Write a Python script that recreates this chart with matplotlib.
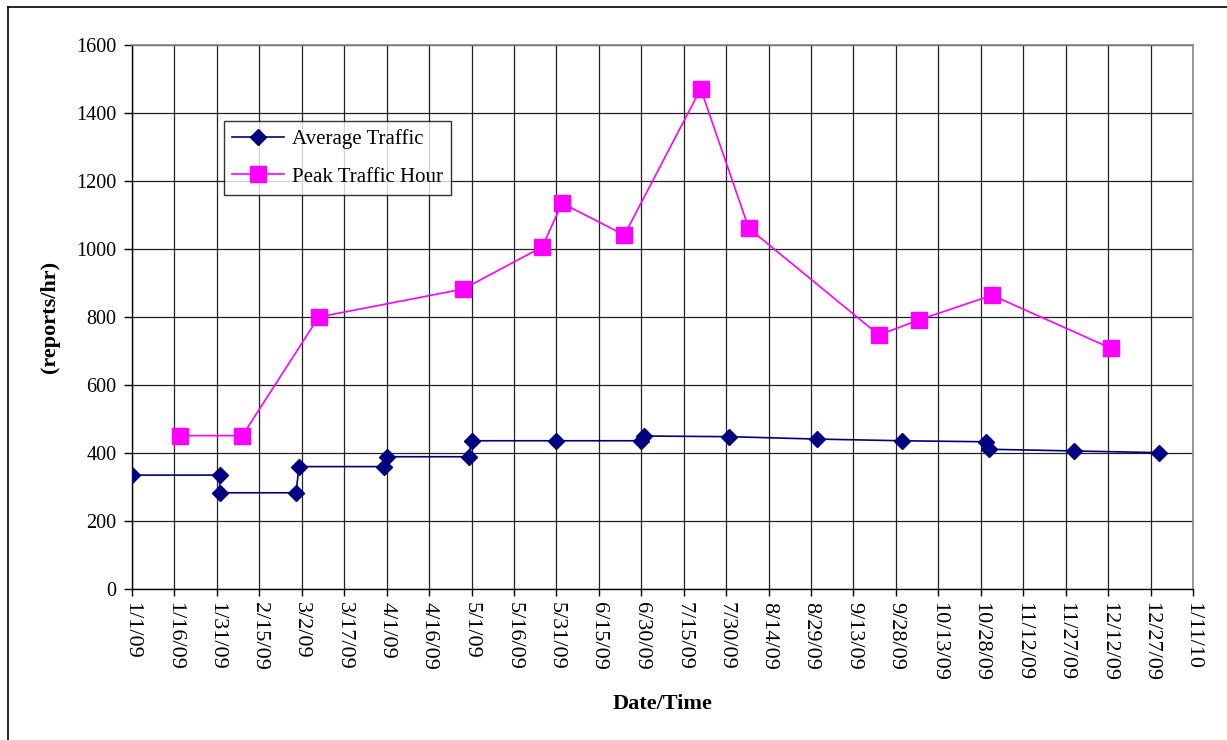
import pandas as pd
import matplotlib.pyplot as plt
from matplotlib.lines import Line2D

plt.rcParams['font.family'] = ['Liberation Serif', 'DejaVu Serif']

# ── data ──
avg_dates = ['2009-01-01', '2009-02-01', '2009-02-01', '2009-02-28', '2009-03-01',
             '2009-03-31', '2009-04-01', '2009-04-30', '2009-05-01', '2009-05-31',
             '2009-06-30', '2009-07-01', '2009-07-31', '2009-08-31', '2009-09-30',
             '2009-10-30', '2009-10-31', '2009-11-30', '2009-12-30']
avg_values = [335, 335, 283, 283, 360, 360, 389, 389, 436, 436,
              436, 450, 448, 441, 436, 433, 411, 406, 401]

peak_dates = ['2009-01-18', '2009-02-09', '2009-03-08', '2009-04-28', '2009-05-26',
              '2009-06-02', '2009-06-24', '2009-07-21', '2009-08-07', '2009-09-22',
              '2009-10-06', '2009-11-01', '2009-12-13']
peak_values = [451, 451, 800, 882, 1006, 1135, 1041, 1471, 1061, 747, 791, 864, 708]

tick_dates = pd.date_range('2009-01-01', '2010-01-11', freq='15D')
y_ticks = [0, 200, 400, 600, 800, 1000, 1200, 1400, 1600]

fig = plt.figure(figsize=(12.27, 7.40), dpi=100)
ax = fig.add_axes([132 / 1227, 1 - 589 / 740, (1193 - 132) / 1227, (589 - 45) / 740])

ax.plot(pd.to_datetime(avg_dates), avg_values, color='#000080', lw=1.2,
        marker='D', markersize=8, markerfacecolor='#000080',
        markeredgecolor='#000080', label='Average Traffic', zorder=4)
ax.plot(pd.to_datetime(peak_dates), peak_values, color='#FF00FF', lw=1.2,
        marker='s', markersize=12, markerfacecolor='#FF00FF',
        markeredgecolor='#FF00FF', label='Peak Traffic Hour', zorder=4)

ax.set_xlim(tick_dates[0], tick_dates[-1])
ax.set_ylim(0, 1600)
ax.set_xticks(tick_dates)
ax.set_xticklabels([f'{d.month}/{d.day}/{d:%y}' for d in tick_dates],
                   rotation=270, fontsize=16)
ax.set_yticks(y_ticks)
ax.tick_params(axis='y', labelsize=14.5, length=6, width=1, direction='out', pad=5)
ax.tick_params(axis='x', length=5, width=1, direction='out', pad=4)
ax.grid(True, color='#222222', lw=0.9)
ax.set_axisbelow(True)

for side in ['top', 'right']:
    ax.spines[side].set_color('#888888')
    ax.spines[side].set_linewidth(1.2)
for side in ['left', 'bottom']:
    ax.spines[side].set_color('black')
    ax.spines[side].set_linewidth(1.0)

ax.set_ylabel('(reports/hr)', fontsize=16, fontweight='bold', labelpad=12)
ax.set_xlabel('Date/Time', fontsize=16, fontweight='bold', labelpad=10)

leg = ax.legend(loc='upper left', bbox_to_anchor=(224 / 1227, 1 - 121 / 740),
                bbox_transform=fig.transFigure, fontsize=15, handlelength=2.5,
                frameon=True, fancybox=False, borderpad=0.4, labelspacing=0.85,
                handletextpad=0.35, borderaxespad=0)
leg.get_frame().set_edgecolor('black')
leg.get_frame().set_linewidth(1.0)

# outer chart border (only left and top visible)
fig.add_artist(Line2D([8 / 1227, 1], [1 - 7 / 740, 1 - 7 / 740],
                      transform=fig.transFigure, color='black', lw=1.2))
fig.add_artist(Line2D([8 / 1227, 8 / 1227], [0, 1 - 7 / 740],
                      transform=fig.transFigure, color='black', lw=1.2))

fig.savefig('out.png', dpi=100)
